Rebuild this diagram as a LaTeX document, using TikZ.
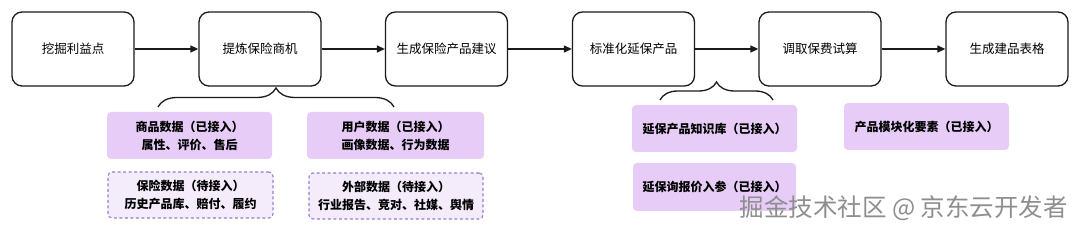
\documentclass[tikz,border=0pt]{standalone}
\usepackage{fontspec}
\setmainfont{Noto Sans CJK SC}
\usetikzlibrary{arrows.meta,positioning,decorations.pathreplacing}
\definecolor{ink}{HTML}{1A1A1A}
\definecolor{lilac}{HTML}{E6CCF6}
\definecolor{lilacbg}{HTML}{F4EBFB}
\definecolor{lilacdash}{HTML}{9A7BD3}
\definecolor{markgray}{HTML}{8E8E8E}
\tikzset{
  stepbox/.style={draw=ink,fill=white,line width=1.3pt,rounded corners=10pt,
                  minimum width=122pt,minimum height=74pt,
                  align=center,font=\fontsize{12.5}{15}\selectfont,inner sep=2pt},
  srcbox/.style={fill=lilac,rounded corners=4pt,
                 minimum width=165pt,minimum height=47pt,inner sep=2pt,
                 align=center,font=\fontsize{12}{18}\selectfont\bfseries},
  todobox/.style={srcbox,fill=lilacbg,draw=lilacdash,line width=1.1pt,
                  dash pattern=on 3pt off 2.5pt},
  flowarr/.style={-{Triangle[length=8pt,width=7pt]},line width=1.2pt,color=ink},
  brace/.style={decorate,decoration={brace,amplitude=19pt},line width=1.3pt,color=ink}
}

\begin{document}
\begin{tikzpicture}[x=1pt,y=-1pt]
  \useasboundingbox (0,0) rectangle (1080,232);
  % main flow
  \node[stepbox] (s1) at (73,49) {挖掘利益点};
  \node[stepbox] (s2) at (260,49) {提炼保险商机};
  \node[stepbox] (s3) at (446.5,49) {生成保险产品建议};
  \node[stepbox] (s4) at (633.5,49) {标准化延保产品};
  \node[stepbox] (s5) at (820,49) {调取保费试算};
  \node[stepbox] (s6) at (1007,49) {生成建品表格};
  \foreach \a/\b in {s1/s2,s2/s3,s3/s4,s4/s5,s5/s6}
    \draw[flowarr] (\a)--(\b);
  % data sources
  \node[srcbox] (goods) at (189.5,135.5) {商品数据（已接入）\\属性、评价、售后};
  \node[srcbox,minimum width=177pt] (user) at (395.5,135.5) {用户数据（已接入）\\画像数据、行为数据};
  \node[todobox,minimum height=46pt] (insur) at (190.5,195) {保险数据（待接入）\\历史产品库、赔付、履约};
  \node[todobox,minimum width=174pt,minimum height=46pt] (extern) at (396,196) {外部数据（待接入）\\行业报告、竞对、社媒、舆情};
  \node[srcbox] (kb) at (714.5,128.5) {延保产品知识库（已接入）};
  \node[srcbox,minimum width=163pt,minimum height=48pt] (quote) at (714.5,187) {延保询报价入参（已接入）};
  \node[srcbox] (module) at (926.5,126.5) {产品模块化要素（已接入）};
  % braces
  \coordinate (b1l) at (158,107);
  \coordinate (b1r) at (394,107);
  \coordinate (b2l) at (660,100);
  \coordinate (b2r) at (773,100);
  \draw[brace] (b1l)--(b1r);
  \draw[brace,decoration={amplitude=18pt}] (b2l)--(b2r);
  % watermark
  \node[font=\fontsize{24.5}{26}\selectfont,color=markgray,anchor=east,inner sep=0pt] (mark) at (1068,208) {掘金技术社区 @ 京东云开发者};
\end{tikzpicture}
\end{document}
